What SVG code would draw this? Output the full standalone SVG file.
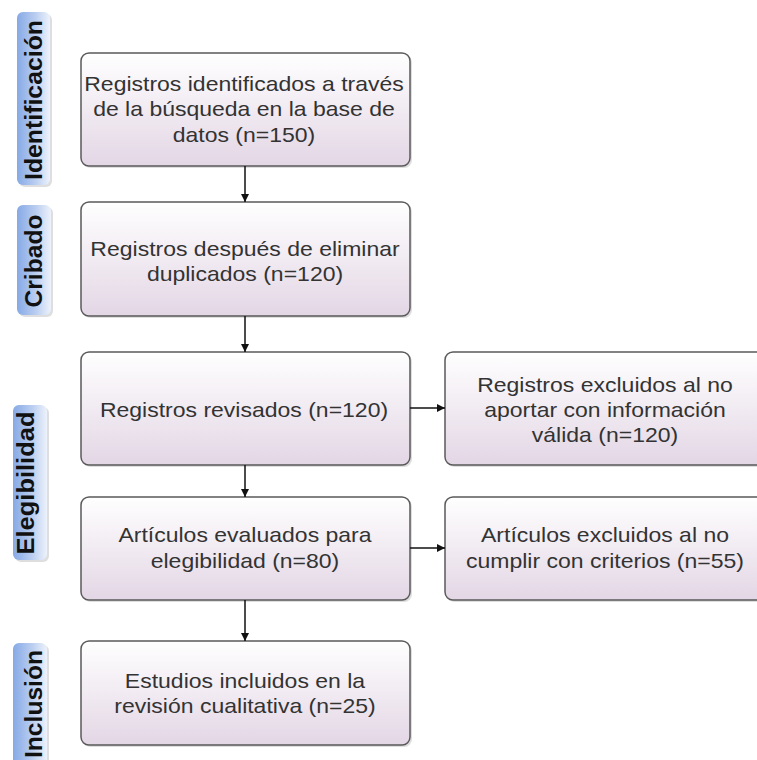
<svg xmlns="http://www.w3.org/2000/svg" width="757" height="760" viewBox="0 0 757 760">
<defs>
<linearGradient id="boxg" x1="0" y1="0" x2="0" y2="1">
<stop offset="0" stop-color="#ffffff"/>
<stop offset="1" stop-color="#e3d6e5"/>
</linearGradient>
<linearGradient id="tabg" x1="0" y1="0" x2="1" y2="0">
<stop offset="0" stop-color="#86a9e6"/>
<stop offset="0.55" stop-color="#b9cdf0"/>
<stop offset="1" stop-color="#edf2fb"/>
</linearGradient>
<marker id="arr" viewBox="0 0 10 10" refX="10" refY="5" markerWidth="8" markerHeight="8" orient="auto" markerUnits="userSpaceOnUse">
<path d="M0,0 L10,5 L0,10 z" fill="#111"/>
</marker>
</defs>
<style>
.box{fill:url(#boxg);stroke:#5a5a5a;stroke-width:1.5}
.sh{fill:#c8c8c8;opacity:0.6}
.tab{fill:url(#tabg);stroke:none}
.t{font-family:"Liberation Sans",Arial,sans-serif;font-size:20px;fill:#333;text-anchor:middle}
.lab{font-family:"Liberation Sans",Arial,sans-serif;font-size:23px;font-weight:bold;fill:#111;text-anchor:middle}
.c{stroke:#111;stroke-width:1.5;fill:none;marker-end:url(#arr)}
</style>
<rect width="757" height="760" fill="#fff"/>
<g id="tab-identificacion">
<rect class="sh" x="19" y="14" width="33" height="173" rx="6"/>
<rect class="tab" x="17" y="12" width="33" height="173" rx="6"/>
<text class="lab" transform="translate(42,100) rotate(-90)" textLength="160" lengthAdjust="spacingAndGlyphs">Identificación</text>
</g>
<g id="tab-cribado">
<rect class="sh" x="19" y="207" width="34" height="110" rx="6"/>
<rect class="tab" x="17" y="205" width="34" height="110" rx="6"/>
<text class="lab" transform="translate(42,261) rotate(-90)" textLength="93" lengthAdjust="spacingAndGlyphs">Cribado</text>
</g>
<g id="tab-elegibilidad">
<rect class="sh" x="15" y="407" width="34" height="155" rx="6"/>
<rect class="tab" x="13" y="405" width="34" height="155" rx="6"/>
<text class="lab" transform="translate(34,483) rotate(-90)" textLength="143" lengthAdjust="spacingAndGlyphs">Elegibilidad</text>
</g>
<g id="tab-inclusion">
<rect class="sh" x="15" y="645" width="34" height="130" rx="6"/>
<rect class="tab" x="13" y="643" width="34" height="130" rx="6"/>
<text class="lab" transform="translate(42,704) rotate(-90)" textLength="108" lengthAdjust="spacingAndGlyphs">Inclusión</text>
</g>
<g id="n1">
<rect class="sh" x="83" y="55" width="329" height="113" rx="8"/>
<rect class="box" x="81" y="53" width="329" height="113" rx="8"/>
<g transform="translate(244 0) scale(1.15 1)">
<text class="t" x="0" y="91">Registros identificados a través</text>
<text class="t" x="0" y="116.5">de la búsqueda en la base de</text>
<text class="t" x="0" y="142">datos (n=150)</text>
</g>
</g>
<g id="n2">
<rect class="sh" x="83" y="204" width="329" height="114" rx="8"/>
<rect class="box" x="81" y="202" width="329" height="114" rx="8"/>
<g transform="translate(245 0) scale(1.15 1)">
<text class="t" x="0" y="256">Registros después de eliminar</text>
<text class="t" x="0" y="281">duplicados (n=120)</text>
</g>
</g>
<g id="n3">
<rect class="sh" x="83" y="354" width="329" height="113" rx="8"/>
<rect class="box" x="81" y="352" width="329" height="113" rx="8"/>
<g transform="translate(244 0) scale(1.15 1)">
<text class="t" x="0" y="417">Registros revisados (n=120)</text>
</g>
</g>
<g id="n3b">
<rect class="sh" x="447" y="354" width="330" height="113" rx="8"/>
<rect class="box" x="445" y="352" width="330" height="113" rx="8"/>
<g transform="translate(605 0) scale(1.15 1)">
<text class="t" x="0" y="392">Registros excluidos al no</text>
<text class="t" x="0" y="417">aportar con información</text>
<text class="t" x="0" y="442">válida (n=120)</text>
</g>
</g>
<g id="n4">
<rect class="sh" x="83" y="499" width="329" height="103" rx="8"/>
<rect class="box" x="81" y="497" width="329" height="103" rx="8"/>
<g transform="translate(245 0) scale(1.15 1)">
<text class="t" x="0" y="542">Artículos evaluados para</text>
<text class="t" x="0" y="568">elegibilidad (n=80)</text>
</g>
</g>
<g id="n4b">
<rect class="sh" x="447" y="499" width="330" height="103" rx="8"/>
<rect class="box" x="445" y="497" width="330" height="103" rx="8"/>
<g transform="translate(605 0) scale(1.15 1)">
<text class="t" x="0" y="542">Artículos excluidos al no</text>
<text class="t" x="0" y="568">cumplir con criterios (n=55)</text>
</g>
</g>
<g id="n5">
<rect class="sh" x="83" y="643" width="329" height="104" rx="8"/>
<rect class="box" x="81" y="641" width="329" height="104" rx="8"/>
<g transform="translate(245 0) scale(1.15 1)">
<text class="t" x="0" y="688">Estudios incluidos en la</text>
<text class="t" x="0" y="713">revisión cualitativa (n=25)</text>
</g>
</g>
<g id="connectors">
<line class="c" x1="245" y1="166" x2="245" y2="202"/>
<line class="c" x1="245" y1="316" x2="245" y2="352"/>
<line class="c" x1="245" y1="465" x2="245" y2="497"/>
<line class="c" x1="245" y1="600" x2="245" y2="641"/>
<line class="c" x1="410" y1="408" x2="445" y2="408"/>
<line class="c" x1="410" y1="548" x2="445" y2="548"/>
</g>
</svg>
